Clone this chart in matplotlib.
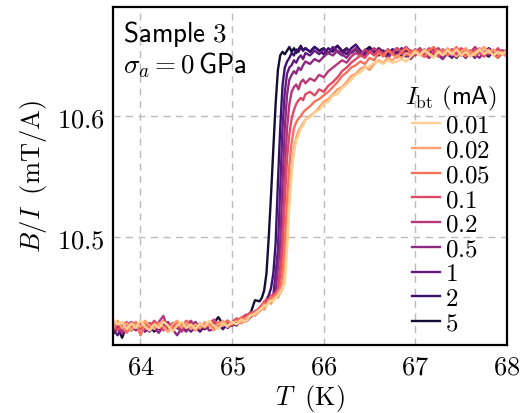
import numpy as np
import matplotlib
matplotlib.use("Agg")
import matplotlib.pyplot as plt
from matplotlib.ticker import FuncFormatter

plt.rcParams["mathtext.fontset"] = "cm"

# temperature grid (K), finer through the transition
T = ([63.70, 63.75, 63.80, 63.85, 63.90, 63.95, 64.00, 64.05, 64.10, 64.15, 64.20,
      64.25, 64.30, 64.35, 64.40, 64.45, 64.50, 64.55, 64.60, 64.65, 64.70, 64.75,
      64.80, 64.85, 64.90, 64.95, 65.00, 65.05, 65.10, 65.15, 65.20, 65.25, 65.30]
     + [65.325, 65.35, 65.375, 65.40, 65.425, 65.45, 65.475, 65.50, 65.525, 65.55,
        65.575, 65.60, 65.625, 65.65, 65.675, 65.70, 65.725, 65.75, 65.775, 65.80]
     + [65.85, 65.90, 65.95, 66.00, 66.05, 66.10, 66.15, 66.20, 66.25, 66.30, 66.35,
        66.40, 66.45, 66.50, 66.55, 66.60, 66.65, 66.70, 66.75, 66.80, 66.85, 66.90,
        66.95, 67.00, 67.05, 67.10, 67.15, 67.20, 67.25, 67.30, 67.35, 67.40, 67.45,
        67.50, 67.55, 67.60, 67.65, 67.70, 67.75, 67.80, 67.85, 67.90, 67.95, 68.00])

# B/I (mT/A) for each bias current
b_001 = [10.432, 10.428, 10.430, 10.424, 10.429, 10.425, 10.431, 10.426, 10.423, 10.428, 10.425,
         10.430, 10.427, 10.422, 10.427, 10.430, 10.425, 10.428, 10.424, 10.429, 10.426, 10.431,
         10.427, 10.424, 10.429, 10.426, 10.430, 10.428, 10.432, 10.430, 10.435, 10.437, 10.440,
         10.441, 10.444, 10.443, 10.446, 10.448, 10.447, 10.450, 10.452, 10.455, 10.458,
         10.462, 10.490, 10.525, 10.552, 10.570, 10.580, 10.584, 10.590, 10.592, 10.597,
         10.599, 10.603, 10.605, 10.610, 10.612, 10.617, 10.618, 10.623, 10.626, 10.630, 10.634,
         10.636, 10.640, 10.641, 10.644, 10.645, 10.643, 10.646, 10.644, 10.645, 10.647, 10.645,
         10.649, 10.653, 10.650, 10.654, 10.651, 10.648, 10.653, 10.650, 10.654, 10.651, 10.655,
         10.650, 10.653, 10.649, 10.652, 10.655, 10.651, 10.654, 10.650, 10.653, 10.651, 10.654]
b_002 = [10.427, 10.431, 10.425, 10.429, 10.423, 10.428, 10.426, 10.431, 10.427, 10.424, 10.429,
         10.426, 10.422, 10.428, 10.431, 10.426, 10.429, 10.424, 10.428, 10.425, 10.430, 10.427,
         10.423, 10.428, 10.431, 10.427, 10.429, 10.431, 10.429, 10.433, 10.436, 10.435, 10.439,
         10.442, 10.440, 10.444, 10.447, 10.445, 10.449, 10.451, 10.450, 10.454, 10.457,
         10.470, 10.500, 10.535, 10.558, 10.574, 10.582, 10.588, 10.591, 10.594, 10.597,
         10.600, 10.603, 10.607, 10.612, 10.614, 10.618, 10.622, 10.624, 10.628, 10.633, 10.635,
         10.639, 10.641, 10.638, 10.643, 10.646, 10.644, 10.648, 10.646, 10.650, 10.648, 10.652,
         10.650, 10.654, 10.651, 10.655, 10.652, 10.649, 10.654, 10.651, 10.656, 10.652, 10.649,
         10.653, 10.656, 10.652, 10.650, 10.654, 10.657, 10.652, 10.655, 10.651, 10.653, 10.649]
b_005 = [10.424, 10.429, 10.426, 10.421, 10.427, 10.430, 10.419, 10.428, 10.423, 10.429, 10.426,
         10.431, 10.427, 10.424, 10.428, 10.425, 10.430, 10.427, 10.423, 10.428, 10.426, 10.429,
         10.424, 10.430, 10.427, 10.431, 10.428, 10.430, 10.434, 10.432, 10.436, 10.438, 10.441,
         10.443, 10.446, 10.444, 10.448, 10.451, 10.449, 10.453, 10.456, 10.458, 10.470,
         10.495, 10.530, 10.560, 10.578, 10.590, 10.595, 10.598, 10.600, 10.603, 10.605,
         10.608, 10.612, 10.614, 10.617, 10.620, 10.624, 10.628, 10.633, 10.636, 10.640, 10.642,
         10.645, 10.643, 10.648, 10.646, 10.652, 10.649, 10.654, 10.651, 10.648, 10.653, 10.656,
         10.652, 10.655, 10.651, 10.649, 10.654, 10.657, 10.652, 10.655, 10.650, 10.653, 10.657,
         10.652, 10.649, 10.654, 10.651, 10.656, 10.652, 10.655, 10.651, 10.648, 10.653, 10.650]
b_01 = [10.428, 10.423, 10.427, 10.430, 10.425, 10.429, 10.424, 10.428, 10.426, 10.431, 10.427,
        10.423, 10.428, 10.425, 10.429, 10.426, 10.431, 10.427, 10.424, 10.429, 10.425, 10.428,
        10.432, 10.426, 10.429, 10.427, 10.430, 10.433, 10.431, 10.435, 10.438, 10.437, 10.442,
        10.444, 10.446, 10.449, 10.447, 10.451, 10.453, 10.452, 10.456, 10.468, 10.490,
        10.530, 10.565, 10.585, 10.598, 10.605, 10.610, 10.613, 10.615, 10.613, 10.618,
        10.620, 10.617, 10.622, 10.620, 10.625, 10.628, 10.632, 10.637, 10.640, 10.644, 10.647,
        10.650, 10.648, 10.653, 10.650, 10.654, 10.651, 10.655, 10.652, 10.656, 10.653, 10.650,
        10.654, 10.651, 10.655, 10.652, 10.656, 10.653, 10.649, 10.654, 10.651, 10.655, 10.652,
        10.656, 10.653, 10.650, 10.655, 10.652, 10.649, 10.654, 10.651, 10.656, 10.652, 10.655]
b_02 = [10.425, 10.429, 10.422, 10.427, 10.430, 10.426, 10.428, 10.423, 10.429, 10.425, 10.430,
        10.435, 10.424, 10.429, 10.426, 10.422, 10.428, 10.431, 10.426, 10.424, 10.429, 10.427,
        10.431, 10.425, 10.428, 10.430, 10.427, 10.431, 10.433, 10.436, 10.434, 10.439, 10.441,
        10.443, 10.447, 10.445, 10.449, 10.452, 10.450, 10.454, 10.457, 10.475, 10.500,
        10.550, 10.590, 10.610, 10.620, 10.624, 10.626, 10.622, 10.628, 10.630, 10.627,
        10.631, 10.629, 10.634, 10.632, 10.637, 10.640, 10.643, 10.646, 10.644, 10.649, 10.652,
        10.650, 10.655, 10.652, 10.656, 10.653, 10.650, 10.655, 10.652, 10.649, 10.654, 10.657,
        10.653, 10.650, 10.655, 10.652, 10.648, 10.653, 10.656, 10.652, 10.655, 10.651, 10.654,
        10.650, 10.655, 10.652, 10.657, 10.653, 10.650, 10.654, 10.651, 10.655, 10.652, 10.649]
b_05 = [10.422, 10.426, 10.420, 10.425, 10.428, 10.423, 10.427, 10.424, 10.429, 10.425, 10.421,
        10.427, 10.430, 10.424, 10.419, 10.425, 10.422, 10.427, 10.430, 10.425, 10.428, 10.423,
        10.424, 10.426, 10.429, 10.425, 10.428, 10.431, 10.429, 10.433, 10.436, 10.438, 10.440,
        10.442, 10.445, 10.448, 10.446, 10.450, 10.453, 10.455, 10.475, 10.495, 10.545,
        10.590, 10.618, 10.630, 10.634, 10.637, 10.635, 10.640, 10.638, 10.642, 10.645,
        10.643, 10.647, 10.645, 10.649, 10.652, 10.650, 10.654, 10.651, 10.648, 10.653, 10.656,
        10.652, 10.649, 10.654, 10.651, 10.655, 10.652, 10.648, 10.653, 10.650, 10.655, 10.651,
        10.647, 10.652, 10.656, 10.651, 10.648, 10.653, 10.650, 10.647, 10.652, 10.655, 10.650,
        10.653, 10.649, 10.654, 10.651, 10.648, 10.653, 10.650, 10.654, 10.648, 10.652, 10.650]
b_1 = [10.424, 10.419, 10.426, 10.422, 10.427, 10.424, 10.429, 10.425, 10.422, 10.427, 10.424,
       10.428, 10.423, 10.426, 10.429, 10.424, 10.427, 10.422, 10.426, 10.429, 10.425, 10.428,
       10.424, 10.427, 10.430, 10.426, 10.429, 10.427, 10.432, 10.430, 10.434, 10.437, 10.439,
       10.441, 10.444, 10.446, 10.449, 10.447, 10.452, 10.470, 10.490, 10.540, 10.590,
       10.620, 10.635, 10.640, 10.642, 10.646, 10.644, 10.648, 10.650, 10.647, 10.652,
       10.650, 10.654, 10.651, 10.655, 10.652, 10.657, 10.653, 10.650, 10.655, 10.652, 10.656,
       10.653, 10.649, 10.654, 10.651, 10.655, 10.652, 10.648, 10.653, 10.656, 10.652, 10.649,
       10.654, 10.651, 10.655, 10.652, 10.648, 10.653, 10.650, 10.655, 10.651, 10.648, 10.653,
       10.650, 10.655, 10.652, 10.648, 10.654, 10.651, 10.655, 10.652, 10.649, 10.654, 10.651]
b_2 = [10.423, 10.427, 10.421, 10.426, 10.429, 10.424, 10.428, 10.422, 10.426, 10.430, 10.425,
       10.428, 10.423, 10.427, 10.425, 10.429, 10.424, 10.428, 10.426, 10.422, 10.427, 10.430,
       10.425, 10.428, 10.424, 10.429, 10.427, 10.431, 10.433, 10.431, 10.436, 10.438, 10.440,
       10.443, 10.446, 10.448, 10.452, 10.458, 10.470, 10.495, 10.545, 10.590, 10.625,
       10.640, 10.645, 10.648, 10.652, 10.650, 10.655, 10.653, 10.657, 10.654, 10.656,
       10.653, 10.657, 10.654, 10.651, 10.656, 10.653, 10.658, 10.654, 10.651, 10.656, 10.659,
       10.654, 10.651, 10.655, 10.652, 10.656, 10.653, 10.650, 10.655, 10.652, 10.656, 10.653,
       10.649, 10.654, 10.651, 10.655, 10.652, 10.656, 10.653, 10.649, 10.654, 10.651, 10.655,
       10.652, 10.648, 10.653, 10.650, 10.655, 10.652, 10.656, 10.653, 10.650, 10.654, 10.651]
b_5 = [10.420, 10.425, 10.417, 10.427, 10.423, 10.426, 10.429, 10.424, 10.427, 10.422, 10.426,
       10.429, 10.424, 10.428, 10.425, 10.423, 10.427, 10.430, 10.425, 10.428, 10.424, 10.427,
       10.429, 10.434, 10.428, 10.431, 10.427, 10.429, 10.433, 10.432, 10.437, 10.448, 10.447,
       10.450, 10.456, 10.470, 10.500, 10.535, 10.573, 10.610, 10.638, 10.650, 10.653,
       10.651, 10.654, 10.657, 10.653, 10.656, 10.652, 10.655, 10.658, 10.654, 10.656,
       10.653, 10.657, 10.654, 10.656, 10.652, 10.655, 10.658, 10.653, 10.656, 10.652, 10.655,
       10.651, 10.654, 10.657, 10.653, 10.650, 10.654, 10.651, 10.655, 10.652, 10.649, 10.654,
       10.651, 10.655, 10.652, 10.649, 10.653, 10.650, 10.654, 10.651, 10.655, 10.652, 10.648,
       10.653, 10.650, 10.654, 10.651, 10.655, 10.652, 10.649, 10.653, 10.650, 10.654, 10.651]

labels = ["0.01", "0.02", "0.05", "0.1", "0.2", "0.5", "1", "2", "5"]
curves = [b_001, b_002, b_005, b_01, b_02, b_05, b_1, b_2, b_5]
colors = plt.cm.magma(np.linspace(0.9, 0.1, len(labels)))

fig = plt.figure(figsize=(5.27, 4.14), dpi=100)
ax = fig.add_axes([0.2144, 0.1643, 0.7476, 0.8164])

handles = [None] * len(labels)
for i in reversed(range(len(labels))):
    (ln,) = ax.plot(T, curves[i], color=colors[i], lw=1.7,
                    label=r"$\mathsf{%s}$" % labels[i])
    handles[i] = ln

ax.set_xlim(63.7, 68.0)
ax.set_ylim(10.411, 10.690)
ax.set_xticks([64, 65, 66, 67, 68])
ax.set_yticks([10.5, 10.6])
fmt = FuncFormatter(lambda v, p: "$%g$" % v)
ax.xaxis.set_major_formatter(fmt)
ax.yaxis.set_major_formatter(fmt)
ax.tick_params(length=0, labelsize=19, pad=6)
ax.grid(True, color="#bbbbbb", lw=1.0, ls=(0, (5, 4)))
for s in ax.spines.values():
    s.set_linewidth(1.6)

ax.set_xlabel(r"$T\;\ (\mathrm{K})$", fontsize=19, labelpad=2)
ax.set_ylabel(r"$B/I\;\ (\mathrm{mT/A})$", fontsize=19, labelpad=6)

ax.text(0.025, 0.968, r"$\mathsf{Sample\ 3}$", transform=ax.transAxes,
        fontsize=19.5, va="top", ha="left")
ax.text(0.025, 0.876, r"$\sigma_a = \mathsf{0\,GPa}$", transform=ax.transAxes,
        fontsize=19.5, va="top", ha="left")

ax.legend(handles=handles, title=r"$I_\mathrm{bt}\ \mathsf{(mA)}$", loc="lower right",
          frameon=False, fontsize=18, title_fontsize=18, handlelength=1.1,
          handletextpad=0.2, labelspacing=0.03, borderaxespad=0.0)

fig.savefig("out.png", dpi=100)
